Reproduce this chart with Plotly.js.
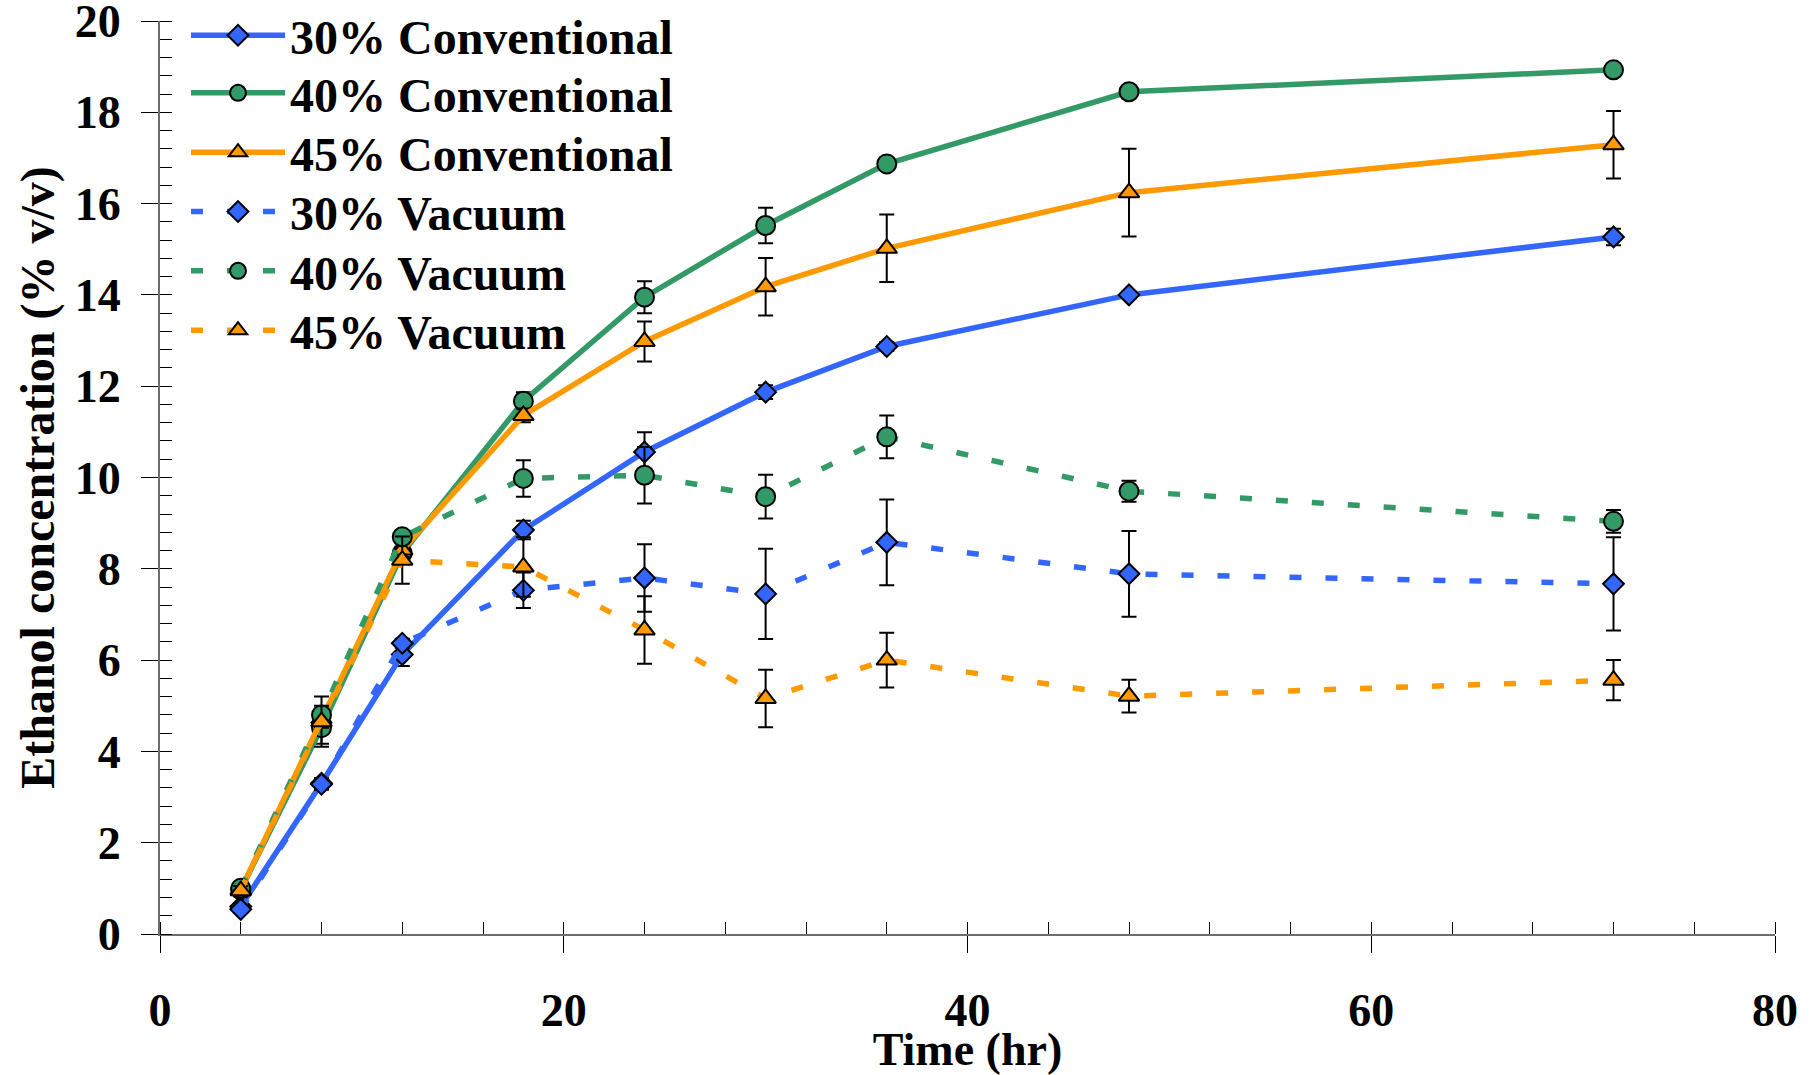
<!DOCTYPE html>
<html>
<head>
<meta charset="utf-8">
<script src="https://cdn.plot.ly/plotly-3.0.1.min.js"></script>
<style>
  html, body { margin: 0; padding: 0; background: #ffffff; }
  #chart { width: 1818px; height: 1075px; }
</style>
</head>
<body>
<div id="chart"></div>
<script>
// Sampling times (hr)
const timeHr = [4, 8, 12, 18, 24, 30, 36, 48, 72];

// Ethanol concentration (% v/v) — conventional fermentation
const conv30 = [0.60, 3.30, 6.12, 8.85, 10.56, 11.87, 12.87, 14.00, 15.27];
const conv30Err = [0.05, 0.12, 0.25, 0.20, 0.43, 0.15, 0.10, 0.08, 0.18];
const conv40 = [0.97, 4.52, 8.34, 11.67, 13.95, 15.52, 16.87, 18.45, 18.93];
const conv40Err = [0.10, 0.35, 0.10, 0.20, 0.35, 0.39, 0.10, 0.08, 0.06];
const conv45 = [0.97, 4.72, 8.41, 11.36, 12.98, 14.18, 15.02, 16.24, 17.29];
const conv45Err = [0.10, 0.20, 0.15, 0.15, 0.44, 0.63, 0.74, 0.96, 0.74];

// Ethanol concentration (% v/v) — vacuum fermentation
const vac30 = [0.54, 3.28, 6.37, 7.53, 7.80, 7.45, 8.58, 7.89, 7.67];
const vac30Err = [0.08, 0.12, 0.10, 0.39, 0.74, 0.99, 0.94, 0.94, 1.02];
const vac40 = [1.00, 4.80, 8.70, 9.98, 10.05, 9.58, 10.89, 9.70, 9.04];
const vac40Err = [0.10, 0.20, 0.10, 0.40, 0.62, 0.48, 0.47, 0.23, 0.25];
const vac45 = [0.95, 4.65, 8.19, 8.04, 6.66, 5.16, 6.00, 5.21, 5.56];
const vac45Err = [0.10, 0.55, 0.52, 0.65, 0.74, 0.63, 0.60, 0.36, 0.44];

const seriesNames = ["30% Conventional", "40% Conventional", "45% Conventional",
                     "30% Vacuum", "40% Vacuum", "45% Vacuum"];

const BLUE = "#3366ff", GREEN = "#339966", ORANGE = "#ff9900";
const FONT = "Liberation Serif, Times New Roman, serif";
const DASH = "12px,24px";

const legendIds = ["legend", "legend2", "legend3", "legend4", "legend5", "legend6"];

function makeTrace(idx, y, err, color, symbol, size, dash) {
  return {
    type: "scatter",
    mode: "lines+markers",
    name: seriesNames[idx],
    legend: legendIds[idx],
    x: timeHr,
    y: y,
    line: { color: color, width: 5.5, dash: dash },
    marker: { symbol: symbol, size: size, color: color,
              line: { color: "#000000", width: 2 } },
    error_y: { type: "data", array: err, visible: true,
               color: "#000000", thickness: 2, width: 7.5 }
  };
}

const traces = [
  makeTrace(0, conv30, conv30Err, BLUE, "diamond", 16, "solid"),
  makeTrace(1, conv40, conv40Err, GREEN, "circle", 19, "solid"),
  makeTrace(2, conv45, conv45Err, ORANGE, "triangle-up", 18, "solid"),
  makeTrace(3, vac30, vac30Err, BLUE, "diamond", 16, DASH),
  makeTrace(4, vac40, vac40Err, GREEN, "circle", 19, DASH),
  makeTrace(5, vac45, vac45Err, ORANGE, "triangle-up", 18, DASH)
];

const tickFont = { family: FONT, size: 46, color: "#000000", weight: "bold" };
const xTitleFont = { family: FONT, size: 46, color: "#000000", weight: "bold" };
const yTitleFont = { family: FONT, size: 48, color: "#000000", weight: "bold" };

// legend rows (paper y of each row's centre)
const legendRowY = [0.984, 0.921, 0.856, 0.791, 0.726, 0.661];

const layout = {
  width: 1818,
  height: 1075,
  paper_bgcolor: "#ffffff",
  plot_bgcolor: "#ffffff",
  margin: { l: 160, r: 43, t: 21, b: 141, autoexpand: false },
  font: { family: FONT, color: "#000000" },
  showlegend: true,
  xaxis: {
    range: [0, 80], dtick: 20, tick0: 0,
    showgrid: false, zeroline: false,
    showline: true, linecolor: "#6e6e6e", linewidth: 2,
    ticks: "outside", ticklen: 17, tickwidth: 1, tickcolor: "#000000",
    ticklabelstandoff: 18, ticklabeloverflow: "allow",
    minor: { dtick: 4, ticks: "inside", ticklen: 12, tickwidth: 1, tickcolor: "#000000", showgrid: false },
    tickfont: tickFont,
    automargin: false,
    title: { text: "Time (hr)", font: xTitleFont, standoff: 28 }
  },
  yaxis: {
    range: [0, 20], dtick: 2, tick0: 0,
    showgrid: false, zeroline: false,
    showline: true, linecolor: "#6e6e6e", linewidth: 2,
    ticks: "outside", ticklen: 17, tickwidth: 1, tickcolor: "#000000",
    ticklabelstandoff: 11, ticklabeloverflow: "allow",
    minor: { dtick: 0.4, ticks: "inside", ticklen: 12, tickwidth: 1, tickcolor: "#000000", showgrid: false },
    tickfont: tickFont,
    automargin: false,
    title: { text: "Ethanol concentration (% v/v)", font: yTitleFont, standoff: 5 }
  },
  xaxis2: {
    overlaying: "x", anchor: "y", side: "bottom",
    range: [0, 80], dtick: 20, tick0: 0,
    showgrid: false, zeroline: false, showline: false,
    ticks: "inside", ticklen: 12, tickwidth: 1, tickcolor: "#000000",
    showticklabels: false, fixedrange: true
  },
  yaxis2: {
    overlaying: "y", anchor: "x", side: "left",
    range: [0, 20], dtick: 2, tick0: 0,
    showgrid: false, zeroline: false, showline: false,
    ticks: "inside", ticklen: 12, tickwidth: 1, tickcolor: "#000000",
    showticklabels: false, fixedrange: true
  }
};

legendIds.forEach(function (id, i) {
  layout[id] = {
    x: 0.0161, y: legendRowY[i], xanchor: "left", yanchor: "middle",
    bgcolor: "rgba(0,0,0,0)",
    borderwidth: 0,
    font: { family: FONT, size: 48, color: "#000000", weight: "bold" },
    itemwidth: 94
  };
});

Plotly.newPlot("chart", traces, layout, { displayModeBar: false, staticPlot: true });
</script>
</body>
</html>
